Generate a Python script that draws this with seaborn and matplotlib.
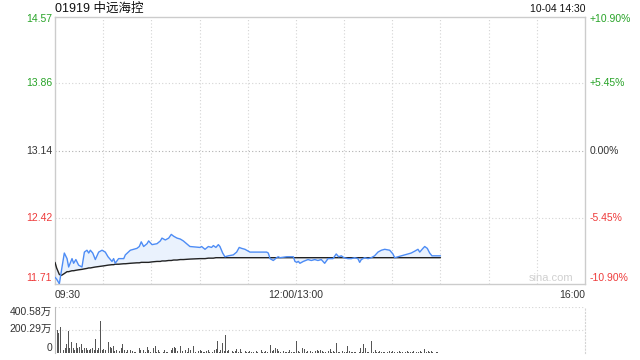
import numpy as np
import pandas as pd
import matplotlib
matplotlib.use("Agg")
import matplotlib.pyplot as plt
import seaborn as sns

# ---------------- data ----------------
title = "01919 中远海控"
stamp = "10-04 14:30"
prev_close = 13.14
pct_limit = 10.90
price_tick_values = [14.57, 13.86, 13.14, 12.42, 11.71]
price_tick_labels = ["14.57", "13.86", "13.14", "12.42", "11.71"]
pct_tick_labels = ["+10.90%", "+5.45%", "0.00%", "-5.45%", "-10.90%"]
time_tick_labels = ["09:30", "12:00/13:00", "16:00"]
time_tick_minutes = [0, 150, 330]
session_minutes = 330
vol_max = 400.58
vol_tick_values = [400.58, 200.29, 0]
vol_tick_labels = ["400.58万", "200.29万", "0"]

# minutes after 09:30 (lunch break removed)
minutes = [0, 1, 2.7, 4, 5.8, 7.5, 8.5, 10.6, 11.6, 13,
           14.7, 16.8, 18.3, 19.9, 21, 22, 23.5, 25.1, 27.2, 29.3,
           31.3, 33, 35.5, 36.5, 37.5, 39.6, 42.8, 43.8, 46.9, 51,
           52.5, 53.7, 55.2, 57.3, 58.3, 60.4, 63.5, 65.6, 66.6, 68.7,
           70.8, 72.4, 73.9, 76, 78, 79.9, 84, 90.3, 91.3, 93.4,
           95.5, 97.5, 98.6, 100.2, 101.7, 102.7, 104.4, 105.8, 107.9, 111,
           113.1, 114.7, 116.2, 118.3, 119.3, 121.4, 131.8, 132.8, 133.9, 135.9,
           138, 139, 140.1, 144.3, 148.4, 149.4, 150.5, 151.5, 152.5, 154.6,
           157.5, 159.6, 161.7, 163.7, 165.8, 167.9, 170, 173.1, 175.1, 176.6,
           178.3, 179.9, 182.4, 184.5, 186.6, 188.6, 189.7, 190.7, 192.8, 194.9,
           196.9, 199, 201.1, 203.2, 205.3, 208.4, 210.4, 211.5, 213.6, 217.7,
           219.8, 221.8, 224, 226, 227.1, 229.1, 230.2, 231.8, 233.3, 234.7,
           240]

price = [11.78, 11.76, 11.71, 11.85, 12.04, 11.98, 11.89, 11.98, 11.93, 11.97,
         11.91, 11.89, 12.05, 12.07, 12.04, 12.07, 12.04, 11.97, 12.05, 12.07,
         12.05, 12.00, 11.95, 11.98, 11.93, 11.98, 11.98, 12.02, 12.07, 12.09,
         12.11, 12.16, 12.11, 12.14, 12.17, 12.13, 12.14, 12.17, 12.20, 12.18,
         12.20, 12.24, 12.22, 12.20, 12.19, 12.17, 12.11, 12.10, 12.11, 12.08,
         12.11, 12.10, 12.12, 12.10, 12.13, 12.11, 12.04, 12.00, 12.01, 12.02,
         12.05, 12.10, 12.09, 12.08, 12.07, 12.05, 12.05, 12.04, 11.98, 11.96,
         11.99, 12.00, 11.99, 12.00, 12.00, 11.95, 11.94, 11.95, 11.93, 11.95,
         11.97, 11.96, 11.97, 11.96, 11.97, 11.93, 11.98, 11.98, 12.03, 12.00,
         12.01, 11.99, 11.98, 11.98, 11.99, 11.98, 11.94, 11.97, 11.99, 11.98,
         11.99, 12.01, 12.05, 12.07, 12.08, 12.07, 12.03, 11.99, 12.00, 12.02,
         12.03, 12.04, 12.06, 12.08, 12.05, 12.09, 12.11, 12.09, 12.04, 12.01,
         12.01]

avg_price = [11.94, 11.88, 11.81, 11.80, 11.82, 11.84, 11.84, 11.85, 11.85, 11.855,
             11.86, 11.865, 11.87, 11.875, 11.88, 11.88, 11.885, 11.89, 11.895, 11.90,
             11.905, 11.91, 11.915, 11.915, 11.92, 11.92, 11.925, 11.925, 11.93, 11.935,
             11.935, 11.94, 11.94, 11.94, 11.94, 11.945, 11.95, 11.95, 11.955, 11.955,
             11.96, 11.96, 11.965, 11.965, 11.97, 11.97, 11.975, 11.98, 11.98, 11.98,
             11.985, 11.985, 11.985, 11.99, 11.99, 11.99, 11.99, 11.99, 11.99, 11.99,
             11.99, 11.99, 11.99, 11.99, 11.99, 11.99, 11.99, 11.99, 11.99, 11.99,
             11.99, 11.99, 11.99, 11.99, 11.99, 11.99, 11.99, 11.99, 11.99, 11.99,
             11.99, 11.99, 11.99, 11.99, 11.99, 11.99, 11.99, 11.99, 11.99, 11.99,
             11.99, 11.99, 11.99, 11.99, 11.99, 11.99, 11.99, 11.99, 11.99, 11.99,
             11.99, 11.99, 11.99, 11.99, 11.99, 11.99, 11.99, 11.99, 11.99, 11.99,
             11.99, 11.99, 11.99, 11.99, 11.99, 11.99, 11.99, 11.99, 11.99, 11.99,
             11.99]

# volume per minute, in 万 shares
vol_minutes = [0, 1, 2, 3, 5, 6, 7, 8, 9, 10, 11, 12, 13, 14, 15, 16, 17, 18, 19, 20,
               21, 22, 23, 24, 25, 26, 27, 28, 29, 30, 31, 33, 34, 35, 36, 37, 38, 40, 41, 42,
               43, 44, 45, 47, 48, 49, 50, 52, 53, 55, 56, 57, 58, 59, 61, 62, 63, 64, 65, 67,
               68, 69, 70, 72, 73, 74, 75, 76, 78,
               79, 81, 82, 83, 84, 86, 87, 89, 90, 91, 92, 93, 94, 95, 96, 98, 99, 100, 101, 102,
               103, 104, 105, 106, 107, 108, 110, 111, 112, 113, 114, 115, 116, 118, 119, 120, 121, 122, 123, 125,
               126, 128, 129, 130, 131, 132, 134, 135, 136, 137, 138, 139, 140, 142, 143, 144, 145, 146, 147, 148,
               149, 150, 151, 152, 154, 155, 156, 157,
               159, 160, 162, 163, 164, 165, 166, 167, 168, 170, 171, 172, 173, 174, 175, 176, 177, 179, 180, 181,
               182, 183, 184, 185, 186, 187, 189, 190, 191, 192, 193, 194, 195, 197, 198, 199, 200, 201, 202, 203,
               204, 205, 207, 208, 209, 210, 211, 213, 214, 215, 216, 218, 219, 220, 221, 222, 223, 225, 226, 227,
               228, 230, 231, 232, 233, 234, 235, 237, 238, 239]
volume = [400.58, 200, 178, 230, 25, 45, 75, 190, 40, 95, 45, 25, 88, 45, 50, 80, 25, 45, 40, 25,
          30, 38, 45, 25, 125, 25, 45, 275, 25, 38, 25, 95, 50, 45, 60, 15, 25, 15, 40, 80,
          25, 10, 30, 25, 15, 10, 10, 40, 25, 30, 10, 50, 25, 10, 40, 65, 10, 25, 5, 10,
          25, 10, 5, 25, 40, 50, 45, 15, 62,
          15, 25, 10, 40, 25, 60, 10, 15, 25, 15, 5, 10, 15, 25, 5, 10, 25, 33, 107, 10,
          25, 87, 15, 155, 15, 25, 15, 10, 15, 33, 10, 33, 5, 15, 5, 10, 15, 10, 5, 15,
          10, 25, 5, 10, 15, 10, 72, 15, 25, 40, 33, 15, 10, 15, 5, 10, 5, 25, 10, 5,
          10, 107, 15, 10, 40, 33, 10, 15,
          15, 10, 15, 25, 15, 25, 15, 5, 10, 15, 33, 10, 15, 5, 87, 10, 5, 15, 10, 5,
          58, 15, 10, 5, 10, 5, 10, 47, 5, 75, 45, 10, 5, 107, 10, 25, 5, 10, 15, 5,
          10, 5, 10, 15, 10, 15, 5, 10, 15, 10, 5, 10, 15, 10, 5, 10, 15, 5, 10, 15,
          5, 33, 5, 15, 10, 15, 5, 10, 5, 3]

# ---------------- styling ----------------
sns.set_style("white")
plt.rcParams['font.family'] = ['Liberation Sans', 'Noto Sans CJK SC', 'DejaVu Sans']

GREEN = "#27a327"
RED = "#ee3b3b"
DARK = "#333333"
SPINE = "#cccccc"
GRID = "#d4d4d4"
LINE_BLUE = "#4d8cf5"
FILL_BLUE = "#eaf2fd"

W, H = 640, 360
fig = plt.figure(figsize=(6.4, 3.6), dpi=100)
ax = fig.add_axes([55 / W, 1 - 284 / H, 530 / W, 267 / H])
axv = fig.add_axes([55 / W, 1 - 353 / H, 530 / W, 46 / H])

df = pd.DataFrame({"minute": minutes, "price": price, "avg": avg_price})
lo = prev_close * (1 - pct_limit / 100)
hi = prev_close * (1 + pct_limit / 100)

# ---------------- price panel ----------------
ax.set_xlim(0, session_minutes)
ax.set_ylim(lo, hi)
for t in range(30, session_minutes, 30):
    ax.axvline(t, color=GRID, lw=0.8, ls=(0, (1, 2)), zorder=0)
for i, v in enumerate(price_tick_values[1:-1]):
    c = "#b0b0b0" if i == 1 else GRID
    ax.axhline(v, color=c, lw=0.8, ls=(0, (1, 2)), zorder=0)

ax.fill_between(df["minute"], df["price"], df["avg"], color=FILL_BLUE, lw=0, zorder=1)
sns.lineplot(data=df, x="minute", y="avg", color="#222222", lw=1.0, ax=ax,
             estimator=None, sort=False, zorder=3)
sns.lineplot(data=df, x="minute", y="price", color=LINE_BLUE, lw=1.0, ax=ax,
             estimator=None, sort=False, zorder=4)

ax.set_xticks([])
ax.set_yticks([])
ax.set_xlabel("")
ax.set_ylabel("")
for s in ax.spines.values():
    s.set_visible(True)
    s.set_color(SPINE)
    s.set_linewidth(1.0)

label_colors = [GREEN, GREEN, DARK, RED, RED]
offsets = [-2, 0, 0, 0, 6]
for v, lab, pl, col, dy in zip(price_tick_values, price_tick_labels, pct_tick_labels,
                               label_colors, offsets):
    ax.annotate(lab, xy=(0, v), xycoords=("axes fraction", "data"),
                xytext=(-3, dy), textcoords="offset pixels",
                ha="right", va="center", fontsize=7.5, color=col)
    ax.annotate(pl, xy=(1, v), xycoords=("axes fraction", "data"),
                xytext=(5, dy), textcoords="offset pixels",
                ha="left", va="center", fontsize=7.5, color=col)

has = ["left", "center", "right"]
for t, lab, ha in zip(time_tick_minutes, time_tick_labels, has):
    ax.annotate(lab, xy=(t, 0), xycoords=("data", "axes fraction"),
                xytext=(0, -11), textcoords="offset pixels",
                ha=ha, va="center", fontsize=7.5, color=DARK)

ax.annotate(title, xy=(0, 1), xycoords="axes fraction", xytext=(0, 8),
            textcoords="offset pixels", ha="left", va="center",
            fontsize=9, color="#111111")
ax.annotate(stamp, xy=(1, 1), xycoords="axes fraction", xytext=(0, 8),
            textcoords="offset pixels", ha="right", va="center",
            fontsize=7.5, color="#111111")
ax.annotate("sina.com", xy=(1, 0), xycoords="axes fraction", xytext=(-12, 6),
            textcoords="offset pixels", ha="right", va="center",
            fontsize=8, color="#d0d0d0")

# ---------------- volume panel ----------------
axv.set_xlim(0, session_minutes)
axv.set_ylim(0, vol_max)
axv.vlines(vol_minutes, 0, volume, color="#555555", lw=0.72, antialiased=False)
for v in vol_tick_values[:2]:
    axv.axhline(v, color=GRID, lw=0.8, ls=(0, (1, 2)), zorder=0)
axv.set_xticks([])
axv.set_yticks([])
axv.spines["top"].set_visible(False)
axv.spines["bottom"].set_visible(False)
axv.spines["left"].set_visible(True)
axv.spines["left"].set_color("#bbbbbb")
axv.spines["right"].set_visible(True)
axv.spines["right"].set_color(GRID)
axv.spines["right"].set_linestyle((0, (1, 2)))
vol_offsets = [-5, 1, 5]
for v, lab, dy in zip(vol_tick_values, vol_tick_labels, vol_offsets):
    axv.annotate(lab, xy=(0, v), xycoords=("axes fraction", "data"),
                 xytext=(-3, dy), textcoords="offset pixels",
                 ha="right", va="center", fontsize=7.5, color=DARK)

fig.savefig("out.png", dpi=100)
